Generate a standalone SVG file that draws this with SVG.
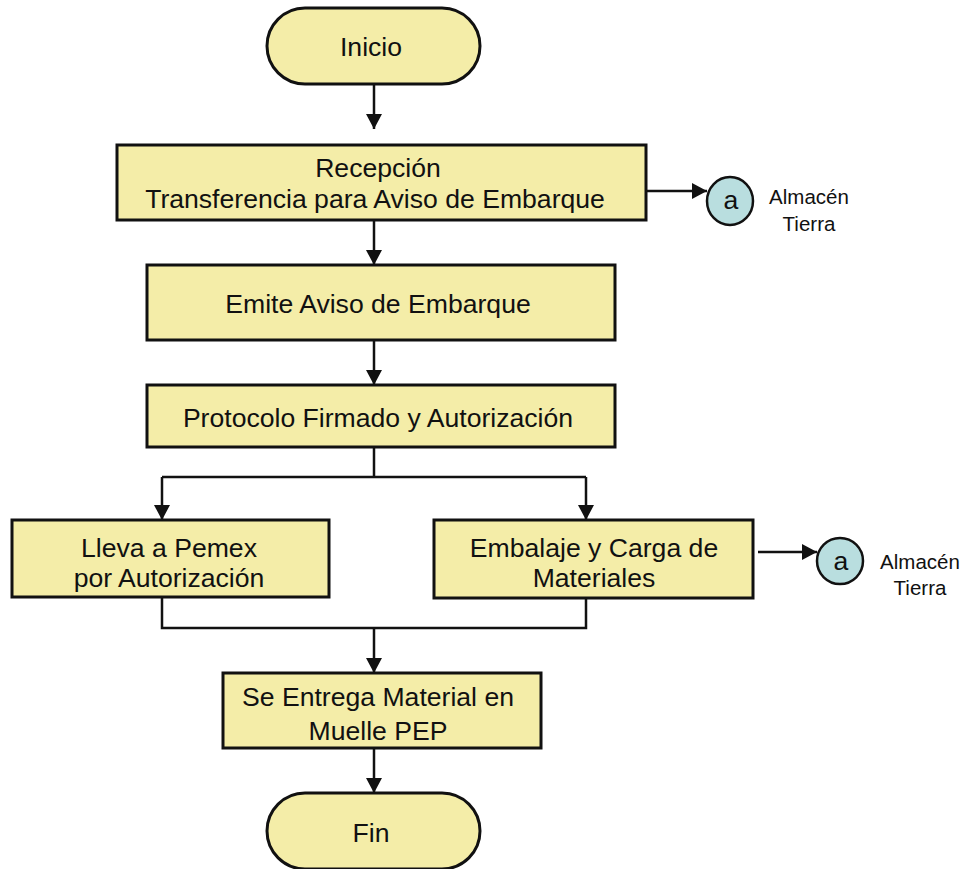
<svg xmlns="http://www.w3.org/2000/svg" width="970" height="869" viewBox="0 0 970 869">
<style>
.box{fill:#F4EDA8;stroke:#111;stroke-width:3}
.conn{fill:#B9DEDF;stroke:#111;stroke-width:2.5}
.t{font-family:"Liberation Sans",Arial,sans-serif;font-size:26.6px;fill:#111;text-anchor:middle}
.s{font-family:"Liberation Sans",Arial,sans-serif;font-size:20.5px;fill:#111;text-anchor:middle}
.ln{fill:none;stroke:#111;stroke-width:2.5}
</style>
<defs>
<marker id="ah" markerWidth="15" markerHeight="16" refX="15" refY="8" orient="auto" markerUnits="userSpaceOnUse" viewBox="0 0 15 16">
<path d="M0,0 L15,8 L0,16 Z" fill="#111"/>
</marker>
</defs>
<g id="connectors">
<path class="ln" d="M374,84 V129" marker-end="url(#ah)"/>
<path class="ln" d="M647,191 H707" marker-end="url(#ah)"/>
<path class="ln" d="M374,220 V265" marker-end="url(#ah)"/>
<path class="ln" d="M374,340 V385" marker-end="url(#ah)"/>
<path class="ln" d="M374,447 V477"/>
<path class="ln" d="M162,477 H586"/>
<path class="ln" d="M162,477 V520" marker-end="url(#ah)"/>
<path class="ln" d="M586,477 V520" marker-end="url(#ah)"/>
<path class="ln" d="M758,552 H817" marker-end="url(#ah)"/>
<path class="ln" d="M162,597 V628 H586 V598"/>
<path class="ln" d="M374,628 V673" marker-end="url(#ah)"/>
<path class="ln" d="M374,748 V793" marker-end="url(#ah)"/>
</g>
<g id="inicio">
<rect class="box" x="267" y="8" width="213" height="76" rx="38"/>
<text class="t" x="371" y="56">Inicio</text>
</g>
<g id="recepcion">
<rect class="box" x="117" y="145" width="529" height="75"/>
<text class="t" x="378" y="177">Recepción</text>
<text class="t" x="375" y="208">Transferencia para Aviso de Embarque</text>
</g>
<g id="conector-a1">
<ellipse class="conn" cx="730" cy="201" rx="23" ry="24"/>
<text class="t" x="731" y="209">a</text>
<text class="s" x="809" y="204">Almacén</text>
<text class="s" x="809" y="231">Tierra</text>
</g>
<g id="emite">
<rect class="box" x="147" y="265" width="468" height="75"/>
<text class="t" x="378" y="313">Emite Aviso de Embarque</text>
</g>
<g id="protocolo">
<rect class="box" x="147" y="385" width="468" height="62"/>
<text class="t" x="378" y="427">Protocolo Firmado y Autorización</text>
</g>
<g id="lleva">
<rect class="box" x="12" y="520" width="317" height="77"/>
<text class="t" x="169" y="557">Lleva a Pemex</text>
<text class="t" x="169" y="587">por Autorización</text>
</g>
<g id="embalaje">
<rect class="box" x="434" y="520" width="319" height="78"/>
<text class="t" x="594" y="557">Embalaje y Carga de</text>
<text class="t" x="594" y="587">Materiales</text>
</g>
<g id="conector-a2">
<ellipse class="conn" cx="840" cy="561" rx="23" ry="23"/>
<text class="t" x="841" y="570">a</text>
<text class="s" x="920" y="569">Almacén</text>
<text class="s" x="920" y="595">Tierra</text>
</g>
<g id="entrega">
<rect class="box" x="223" y="673" width="318" height="75"/>
<text class="t" x="378" y="706">Se Entrega Material en</text>
<text class="t" x="378" y="740">Muelle PEP</text>
</g>
<g id="fin">
<rect class="box" x="267" y="793" width="213" height="76" rx="38"/>
<text class="t" x="371" y="842">Fin</text>
</g>
</svg>
